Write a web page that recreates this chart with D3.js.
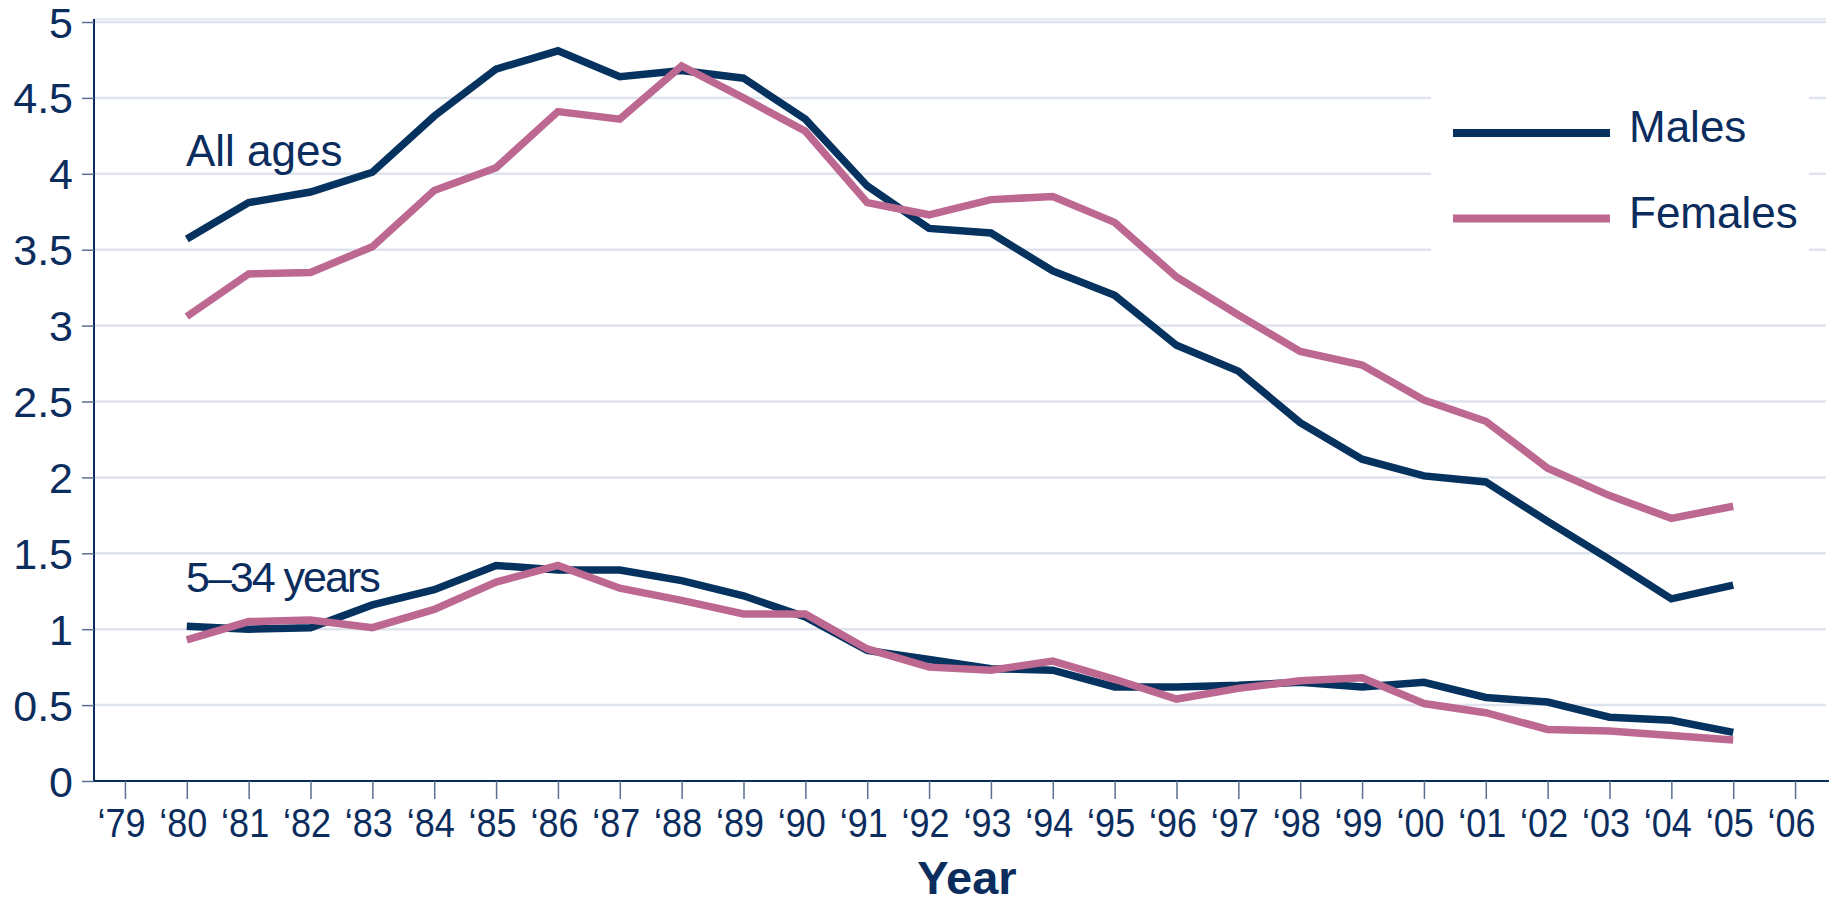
<!DOCTYPE html>
<html>
<head>
<meta charset="utf-8">
<script src="https://cdn.jsdelivr.net/npm/d3@7"></script>
<style>
  html, body { margin: 0; padding: 0; background: #fff; }
  svg { display: block; font-family: "Liberation Sans", Arial, sans-serif; }
</style>
</head>
<body>
<svg id="chart" width="1837" height="905"></svg>
<script>
// Death rates by year, all ages vs 5-34 years, males / females

// -----------------------------------------------------------------------------
// DATA
// -----------------------------------------------------------------------------

const YEARS = d3.range(1980, 2006);
const TICK_YEARS = d3.range(1979, 2007);
const Y_TICKS = [0, 0.5, 1, 1.5, 2, 2.5, 3, 3.5, 4, 4.5, 5];

const allMales = [3.57, 3.81, 3.88, 4.01, 4.38, 4.69, 4.81, 4.64, 4.68, 4.63, 4.36, 3.92, 3.64, 3.61, 3.36, 3.20, 2.87, 2.70, 2.36, 2.12, 2.01, 1.97, 1.71, 1.46, 1.20, 1.29];
const allFemales = [3.06, 3.34, 3.35, 3.52, 3.89, 4.04, 4.41, 4.36, 4.71, 4.50, 4.28, 3.81, 3.73, 3.83, 3.85, 3.68, 3.32, 3.07, 2.83, 2.74, 2.51, 2.37, 2.06, 1.88, 1.73, 1.81];
const youngMales = [1.02, 1.00, 1.01, 1.16, 1.26, 1.42, 1.39, 1.39, 1.32, 1.22, 1.08, 0.86, 0.80, 0.74, 0.73, 0.62, 0.62, 0.63, 0.65, 0.62, 0.65, 0.55, 0.52, 0.42, 0.40, 0.32];
const youngFemales = [0.93, 1.05, 1.06, 1.01, 1.13, 1.31, 1.42, 1.27, 1.19, 1.10, 1.10, 0.87, 0.75, 0.73, 0.79, 0.67, 0.54, 0.61, 0.66, 0.68, 0.51, 0.45, 0.34, 0.33, 0.30, 0.27];

const SERIES = [
  { name: 'Males', color: '#06325f', values: allMales },
  { name: 'Females', color: '#bd6891', values: allFemales },
  { name: 'Males', color: '#06325f', values: youngMales },
  { name: 'Females', color: '#bd6891', values: youngFemales }
];
const LEGEND = [
  { name: 'Males', color: '#06325f' },
  { name: 'Females', color: '#bd6891' }
];

// -----------------------------------------------------------------------------
// LAYOUT
// -----------------------------------------------------------------------------

const TEXT = '#0b2d5e';
const GRID = '#dfe3ee';
const plotLeft = 94, plotRight = 1826, plotTop = 22, plotBottom = 781;

const x = d3.scaleLinear().domain([1978.5, 2006.5]).range([plotLeft, plotRight]);
const y = d3.scaleLinear().domain([0, 5]).range([plotBottom, plotTop]);

const svg = d3.select('#chart');

// gridlines (the top one is doubled in the original)
svg.append('g')
  .selectAll('line')
  .data(Y_TICKS.filter(d => d > 0))
  .join('line')
  .attr('x1', plotLeft).attr('x2', plotRight)
  .attr('y1', d => y(d)).attr('y2', d => y(d))
  .attr('stroke', GRID).attr('stroke-width', 2.5);
svg.append('line')
  .attr('x1', plotLeft).attr('x2', plotRight)
  .attr('y1', plotTop - 3).attr('y2', plotTop - 3)
  .attr('stroke', GRID).attr('stroke-width', 1.5);

// legend backdrop interrupts the gridlines
svg.append('rect')
  .attr('x', 1431).attr('y', 60).attr('width', 378).attr('height', 230)
  .attr('fill', '#fff');

// -----------------------------------------------------------------------------
// AXES
// -----------------------------------------------------------------------------

const yAxis = svg.append('g')
  .attr('transform', `translate(${plotLeft},0)`)
  .call(d3.axisLeft(y).tickValues(Y_TICKS).tickFormat(d => String(d)).tickSize(12).tickPadding(9));
yAxis.select('.domain').attr('stroke', TEXT).attr('stroke-width', 2).attr('d', `M0,${plotTop - 3}V${plotBottom}`);
yAxis.selectAll('.tick line').attr('stroke', '#5a6f92').attr('stroke-width', 1.5);
yAxis.selectAll('.tick text')
  .attr('fill', TEXT).attr('font-size', 43).attr('dy', '0.35em')
  .style('font-family', '"Liberation Sans", Arial, sans-serif');

const xAxis = svg.append('g')
  .attr('transform', `translate(0,${plotBottom})`)
  .call(d3.axisBottom(x).tickValues(TICK_YEARS).tickFormat(d => '\u2018' + String(d).slice(2)).tickSize(18).tickPadding(10));
xAxis.select('.domain').attr('stroke', TEXT).attr('stroke-width', 2).attr('d', `M${plotLeft},0H${plotRight + 3}`);
xAxis.selectAll('.tick line').attr('stroke', '#5a6f92').attr('stroke-width', 1.5);
xAxis.selectAll('.tick text')
  .attr('fill', TEXT).attr('font-size', 40).attr('dy', '0.71em')
  .attr('transform', 'translate(-4,0) scale(0.9,1)')
  .style('font-family', '"Liberation Sans", Arial, sans-serif');

svg.append('text')
  .attr('x', 967).attr('y', 894)
  .attr('text-anchor', 'middle')
  .attr('fill', TEXT).attr('font-size', 47).attr('font-weight', 'bold')
  .text('Year');

// -----------------------------------------------------------------------------
// LINES
// -----------------------------------------------------------------------------

const line = d3.line()
  .x((d, i) => x(YEARS[i]))
  .y(d => y(d));

svg.append('g')
  .selectAll('path')
  .data(SERIES)
  .join('path')
  .attr('d', d => line(d.values))
  .attr('fill', 'none')
  .attr('stroke', d => d.color)
  .attr('stroke-width', 7.5)
  .attr('stroke-linejoin', 'miter');

// group labels
svg.append('text')
  .attr('x', 186).attr('y', 166)
  .attr('fill', TEXT).attr('font-size', 44)
  .text('All ages');
svg.append('text')
  .attr('x', 186).attr('y', 592)
  .attr('fill', TEXT).attr('font-size', 43).attr('letter-spacing', -2)
  .text('5\u201334 years');

// -----------------------------------------------------------------------------
// LEGEND
// -----------------------------------------------------------------------------

const legend = svg.append('g')
  .selectAll('g')
  .data(LEGEND)
  .join('g')
  .attr('transform', (d, i) => `translate(1453,${133 + i * 85.5})`);
legend.append('line')
  .attr('x1', 0).attr('x2', 157)
  .attr('stroke', d => d.color).attr('stroke-width', 8);
legend.append('text')
  .attr('x', 176).attr('y', 9)
  .attr('fill', TEXT).attr('font-size', 44)
  .text(d => d.name);
</script>
</body>
</html>
